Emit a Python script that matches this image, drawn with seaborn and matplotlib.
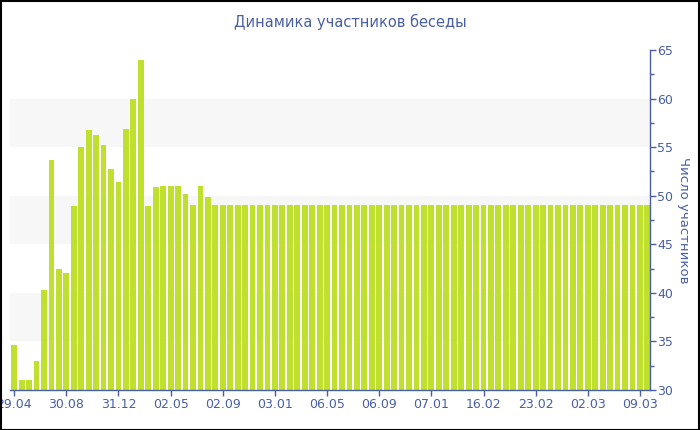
import matplotlib
matplotlib.use('Agg')
import matplotlib.pyplot as plt
import seaborn as sns
import pandas as pd
from matplotlib.patches import Rectangle
from matplotlib.ticker import MultipleLocator

sns.set_style('white')
plt.rcParams['font.family'] = ['DejaVu Sans']

# participants per period
members = [34.6, 31, 31, 33, 40.3, 53.7, 42.5, 42, 48.9, 55, 56.8, 56.3, 55.2,
           52.8, 51.4, 56.9, 60, 64, 48.9, 50.9, 51, 51, 51, 50.2, 49, 51,
           49.9, 49] + [49] * 58
tick_labels = ['29.04', '30.08', '31.12', '02.05', '02.09', '03.01', '06.05',
               '06.09', '07.01', '16.02', '23.02', '02.03', '09.03']
tick_step = 7

blue = '#4a5fa3'
green = '#bfe02e'

df = pd.DataFrame({'n': range(len(members)), 'members': members})

fig = plt.figure(figsize=(7, 4.3), dpi=100)
ax = fig.add_axes([10 / 700, 40 / 430, 640 / 700, 340 / 430])

# alternating background bands
for lo in (35, 45, 55):
    ax.axhspan(lo, lo + 5, color='#f7f7f7', zorder=0, lw=0)

sns.barplot(data=df, x='n', y='members', color=green, saturation=1,
            width=0.78, linewidth=0, ax=ax, zorder=2)

ax.set_xlim(-0.56, 85.35)
ax.set_ylim(30, 65)
ax.set_xticks(range(0, len(tick_labels) * tick_step, tick_step))
ax.set_xticklabels(tick_labels)
ax.set_xlabel('')

ax.yaxis.tick_right()
ax.yaxis.set_label_position('right')
ax.yaxis.set_major_locator(MultipleLocator(5))
ax.yaxis.set_minor_locator(MultipleLocator(2.5))
ax.set_ylabel('Число участников', rotation=270, labelpad=12, color=blue, fontsize=9.5)

for s in ('top', 'left'):
    ax.spines[s].set_visible(False)
for s in ('bottom', 'right'):
    ax.spines[s].set_color(blue)
    ax.spines[s].set_linewidth(1)

ax.tick_params(axis='x', colors=blue, labelsize=9, length=4, width=1, pad=2,
               bottom=True)
ax.tick_params(axis='y', which='major', colors=blue, labelsize=9, length=4,
               width=1, pad=1, right=True, left=False)
ax.tick_params(axis='y', which='minor', colors=blue, length=3, width=1,
               right=True, left=False)

fig.text(0.5, 1 - 22 / 430, 'Динамика участников беседы', ha='center',
         va='center', color=blue, fontsize=10.5)

fig.patches.append(Rectangle((0.001, 0.001), 0.997, 0.997, transform=fig.transFigure,
                             fill=False, edgecolor='black', linewidth=1.5))

fig.savefig('out.png', dpi=100)
